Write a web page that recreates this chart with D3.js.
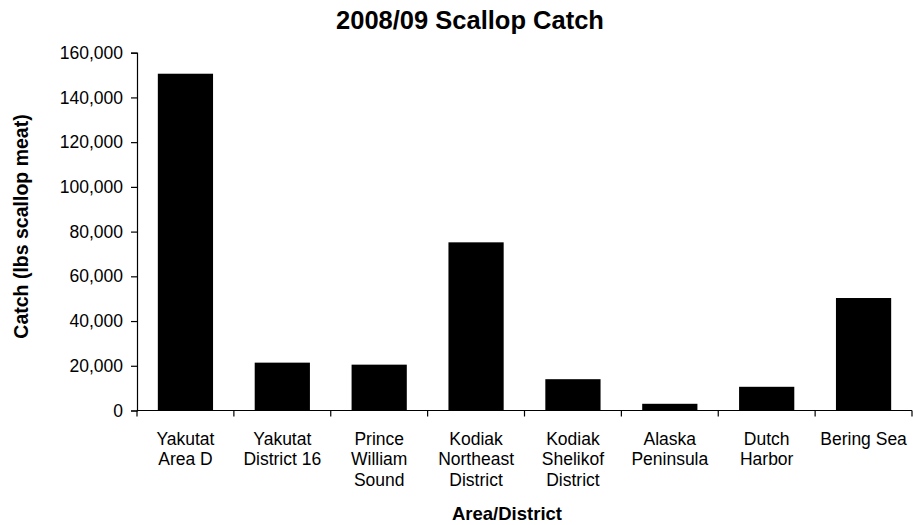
<!DOCTYPE html>
<html>
<head>
<meta charset="utf-8">
<script src="https://cdn.jsdelivr.net/npm/d3@7"></script>
<style>
  html, body { margin: 0; padding: 0; background: #fff; }
  svg { display: block; font-family: Arial, "Liberation Sans", sans-serif; }
</style>
</head>
<body>
<svg id="chart" width="913" height="525"></svg>
<script>
// Scallop catch by area/district, 2008/09 season (lbs of scallop meat)
const areas = [
  "Yakutat Area D",
  "Yakutat District 16",
  "Prince William Sound",
  "Kodiak Northeast District",
  "Kodiak Shelikof District",
  "Alaska Peninsula",
  "Dutch Harbor",
  "Bering Sea"
];
// category labels split onto lines
const areaLines = [
  ["Yakutat", "Area D"],
  ["Yakutat", "District 16"],
  ["Prince", "William", "Sound"],
  ["Kodiak", "Northeast", "District"],
  ["Kodiak", "Shelikof", "District"],
  ["Alaska", "Peninsula"],
  ["Dutch", "Harbor"],
  ["Bering Sea"]
];
const catchLbs = [150600, 21400, 20500, 75200, 14000, 3000, 10600, 50300];
const yTicks = [0, 20000, 40000, 60000, 80000, 100000, 120000, 140000, 160000];

const chartTitle = "2008/09 Scallop Catch";
const xTitle = "Area/District";
const yTitle = "Catch (lbs scallop meat)";

const svg = d3.select("#chart");
const plot = { left: 137, right: 912, top: 52.7, bottom: 410.5 };

const x = d3.scaleBand()
  .domain(areas)
  .range([plot.left, plot.right])
  .paddingInner(0.43)
  .paddingOuter(0.215);

const y = d3.scaleLinear()
  .domain([0, 160000])
  .range([plot.bottom, plot.top]);

// bars
svg.append("g")
  .selectAll("rect")
  .data(areas.map((a, i) => ({ area: a, value: catchLbs[i] })))
  .join("rect")
  .attr("x", d => x(d.area))
  .attr("y", d => y(d.value))
  .attr("width", x.bandwidth())
  .attr("height", d => y(0) - y(d.value))
  .attr("fill", "#000");

// y axis
const yAxis = svg.append("g")
  .attr("transform", `translate(${plot.left},0)`)
  .call(d3.axisLeft(y).tickValues(yTicks).tickFormat(d3.format(",")).tickSize(6).tickPadding(8));
yAxis.select(".domain").attr("stroke", "#000").attr("stroke-width", 1.2);
yAxis.selectAll(".tick line").attr("stroke", "#000").attr("stroke-width", 1.2);
yAxis.selectAll(".tick text")
  .attr("font-size", 17.5)
  .attr("font-family", 'Arial, "Liberation Sans", sans-serif')
  .attr("fill", "#000");

// x axis: baseline with ticks at category boundaries
const step = x.step();
const half = x.paddingInner() * step / 2;
const bounds = areas.map(a => x(a) - half).concat([x(areas[areas.length - 1]) + x.bandwidth() + half]);
const xAxis = svg.append("g");
xAxis.append("line")
  .attr("x1", plot.left).attr("x2", plot.right)
  .attr("y1", y(0)).attr("y2", y(0))
  .attr("stroke", "#000").attr("stroke-width", 1.2);
xAxis.selectAll("line.tick")
  .data(bounds)
  .join("line")
  .attr("class", "tick")
  .attr("x1", d => d).attr("x2", d => d)
  .attr("y1", y(0)).attr("y2", y(0) + 6)
  .attr("stroke", "#000").attr("stroke-width", 1.2);

const labels = xAxis.selectAll("text.cat")
  .data(areas)
  .join("text")
  .attr("class", "cat")
  .attr("text-anchor", "middle")
  .attr("font-size", 17.5)
  .attr("fill", "#000");
labels.each(function (a, i) {
  const t = d3.select(this);
  areaLines[i].forEach((line, j) => {
    t.append("tspan")
      .attr("x", x(a) + x.bandwidth() / 2)
      .attr("y", 445 + j * 20.3)
      .text(line);
  });
});

// titles
svg.append("text")
  .attr("x", 470).attr("y", 29)
  .attr("text-anchor", "middle")
  .attr("font-size", 25.5)
  .attr("font-weight", "bold")
  .text(chartTitle);

svg.append("text")
  .attr("x", 507).attr("y", 520)
  .attr("text-anchor", "middle")
  .attr("font-size", 18.5)
  .attr("font-weight", "bold")
  .text(xTitle);

svg.append("text")
  .attr("transform", "translate(28,226.5) rotate(-90)")
  .attr("text-anchor", "middle")
  .attr("font-size", 19.5)
  .attr("font-weight", "bold")
  .text(yTitle);
</script>
</body>
</html>
